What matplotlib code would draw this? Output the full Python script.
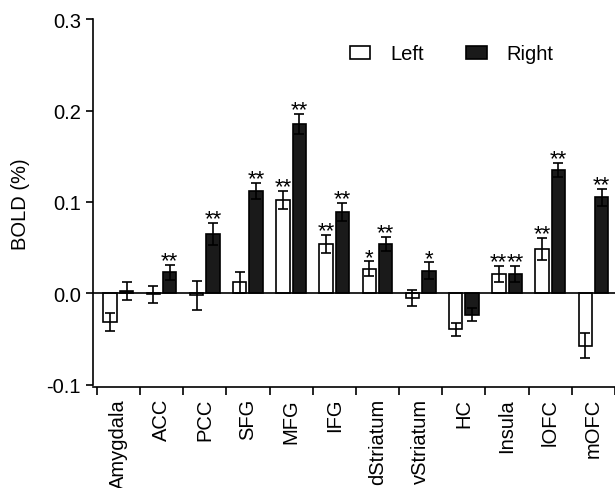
import numpy as np
import matplotlib
matplotlib.use("Agg")
import matplotlib.pyplot as plt
from matplotlib.patches import Patch

plt.rcParams["font.family"] = ["Liberation Sans", "DejaVu Sans"]

regions = ["Amygdala", "ACC", "PCC", "SFG", "MFG", "IFG", "dStriatum",
           "vStriatum", "HC", "Insula", "lOFC", "mOFC"]

left_mean = [-0.031, -0.001, -0.002, 0.012, 0.102, 0.054, 0.027,
             -0.005, -0.039, 0.021, 0.049, -0.057]
left_err = [0.010, 0.009, 0.016, 0.011, 0.010, 0.010, 0.008,
            0.009, 0.007, 0.009, 0.012, 0.014]
right_mean = [0.003, 0.023, 0.065, 0.112, 0.185, 0.089, 0.054,
              0.025, -0.023, 0.021, 0.135, 0.105]
right_err = [0.010, 0.008, 0.012, 0.009, 0.011, 0.010, 0.008,
             0.009, 0.007, 0.009, 0.008, 0.009]
left_sig = ["", "", "", "", "**", "**", "*", "", "", "**", "**", ""]
right_sig = ["", "**", "**", "**", "**", "**", "**", "*", "", "**", "**", "**"]

x = np.arange(len(regions))
off = 0.19
w = 0.31
lw = 1.2
fs = 14.5

fig = plt.figure(figsize=(6.15, 4.89), dpi=100)
ax = fig.add_axes([0.151, 0.207, 0.849, 0.752])

ax.bar(x - off, left_mean, w, color="white", edgecolor="black", linewidth=lw, zorder=2)
ax.bar(x + off, right_mean, w, color="#1a1a1a", edgecolor="black", linewidth=lw, zorder=2)
ax.errorbar(x - off, left_mean, yerr=left_err, fmt="none", ecolor="black",
            elinewidth=lw, capsize=3.5, capthick=lw, zorder=3)
ax.errorbar(x + off, right_mean, yerr=right_err, fmt="none", ecolor="black",
            elinewidth=lw, capsize=3.5, capthick=lw, zorder=3)
ax.axhline(0, color="black", linewidth=lw, zorder=4)

# significance stars above the error bars
for i in range(len(regions)):
    if left_sig[i]:
        top = max(left_mean[i], 0) + left_err[i]
        ax.annotate(left_sig[i], (x[i] - off, top), xytext=(0, -1),
                    textcoords="offset points", ha="center", va="baseline",
                    fontsize=16, annotation_clip=False)
    if right_sig[i]:
        top = max(right_mean[i], 0) + right_err[i]
        ax.annotate(right_sig[i], (x[i] + off, top), xytext=(0, -1),
                    textcoords="offset points", ha="center", va="baseline",
                    fontsize=16, annotation_clip=False)

ax.set_ylim(-0.102, 0.3)
ax.set_xlim(-0.59, 11.46)
ax.set_yticks([-0.1, 0.0, 0.1, 0.2, 0.3])
ax.set_yticklabels(["-0.1", "0.0", "0.1", "0.2", "0.3"])
ax.spines["left"].set_bounds(-0.1, 0.3)
ax.spines["top"].set_visible(False)
ax.spines["right"].set_visible(False)
ax.spines["left"].set_linewidth(lw)
ax.spines["bottom"].set_linewidth(lw)

ax.set_xticks(x)
ax.set_xticklabels(regions, rotation=90)
ax.set_xticks(np.arange(len(regions) + 1) - 0.5, minor=True)
ax.tick_params(axis="x", which="major", length=0, pad=8, labelsize=fs)
ax.tick_params(axis="x", which="minor", length=6, width=lw, direction="out")
ax.tick_params(axis="y", length=5, width=lw, labelsize=fs)
ax.set_ylabel("BOLD (%)", fontsize=fs, labelpad=12)

handles = [Patch(facecolor="white", edgecolor="black", linewidth=lw, label="Left"),
           Patch(facecolor="#1a1a1a", edgecolor="black", linewidth=lw, label="Right")]
fig.legend(handles=handles, loc="center", bbox_to_anchor=(0.735, 0.888), ncol=2,
           frameon=False, fontsize=fs, handlelength=1.0, handleheight=0.6,
           columnspacing=2.1, handletextpad=1.0)

fig.savefig("out.png", dpi=100)
